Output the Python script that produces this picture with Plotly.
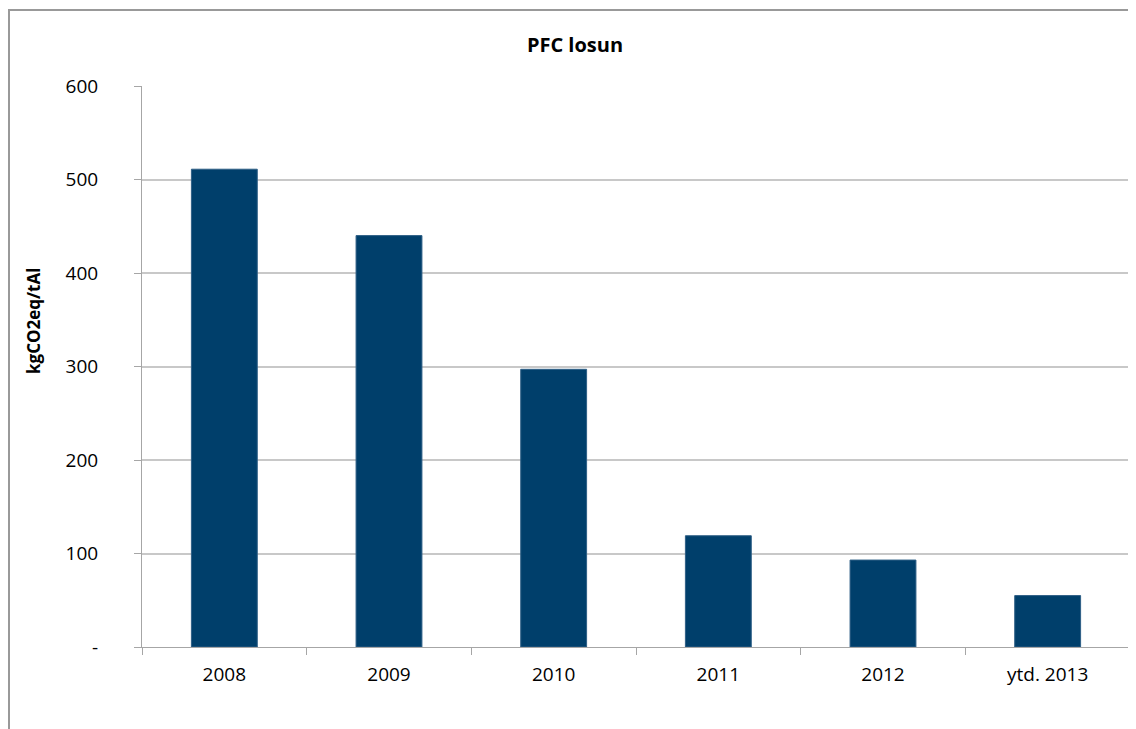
import plotly.graph_objects as go

categories = ["2008", "2009", "2010", "2011", "2012", "ytd. 2013"]
values = [511, 440, 297, 119, 93, 55]
tick_vals = [0, 100, 200, 300, 400, 500, 600]
tick_text = ["-", "100", "200", "300", "400", "500", "600"]

W, H = 1128, 721
L, R, T, B = 134, 6, 78, 82
pw, ph = W - L - R, H - T - B

fig = go.Figure(go.Bar(x=categories, y=values,
                       marker=dict(color="#003F6B", line=dict(color="#2E5F86", width=1)),
                       width=0.4))

fig.update_layout(
    width=W, height=H,
    margin=dict(l=L, r=R, t=T, b=B),
    plot_bgcolor="white", paper_bgcolor="white",
    showlegend=False,
    font=dict(family="Open Sans", size=19, color="#000000"),
    title=dict(text="<b>PFC losun</b>", x=(567 - L) / pw, xref="paper", xanchor="center",
               y=1 - 37 / H, yanchor="middle", font=dict(size=20, family="Open Sans")),
    xaxis=dict(showline=True, linecolor="#A6A6A6", linewidth=1, ticks="outside", ticklen=7,
               tickcolor="#A6A6A6", tickson="boundaries", showgrid=False, tickfont=dict(size=19),
               ticklabelstandoff=10),
    yaxis=dict(range=[0, 600], tickvals=tick_vals, ticktext=tick_text, showline=True, linecolor="#A6A6A6",
               linewidth=1, ticks="outside", ticklen=7, tickcolor="#A6A6A6", showgrid=True,
               gridcolor="#C8C8C8", gridwidth=1.5, zeroline=False, tickfont=dict(size=19),
               ticklabelstandoff=32),
    annotations=[dict(text="<b>kgCO2eq/tAl</b>", xref="paper", yref="paper",
                      x=(25 - L) / pw, y=(639 - 313) / ph, xanchor="center", yanchor="middle",
                      textangle=-90, showarrow=False, font=dict(size=17))],
    shapes=[dict(type="rect", xref="paper", yref="paper",
                 x0=(1 - L) / pw, x1=(W + 20 - L) / pw,
                 y0=-(B + 20) / ph, y1=(ph + T - 2) / ph,
                 line=dict(color="#999999", width=2), layer="below")],
)

fig.write_html("out.html")
